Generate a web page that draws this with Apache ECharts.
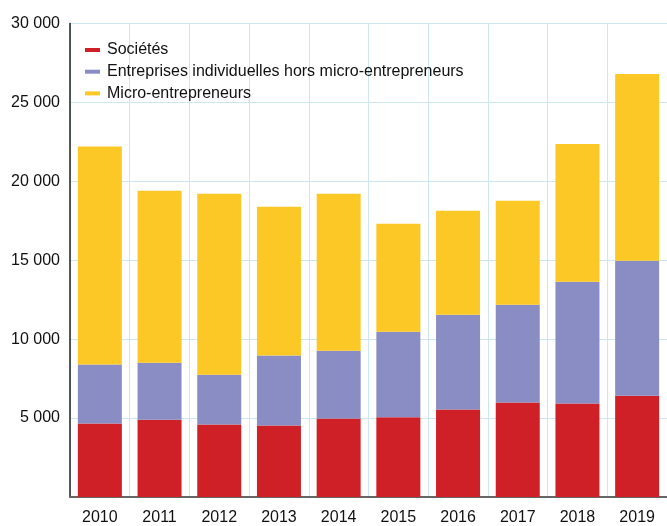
<!DOCTYPE html>
<html>
<head>
<meta charset="utf-8">
<script src="https://cdn.jsdelivr.net/npm/echarts@6/dist/echarts.min.js"></script>
<style>
  html, body { margin: 0; padding: 0; background: #fff; }
  #chart { width: 667px; height: 526px; }
</style>
</head>
<body>
<div id="chart"></div>
<script>
const years = ['2010', '2011', '2012', '2013', '2014', '2015', '2016', '2017', '2018', '2019']
const societes = [4650, 4900, 4590, 4530, 4970, 5050, 5540, 5980, 5920, 6420]
const entIndiv = [3750, 3610, 3160, 4430, 4300, 5420, 6010, 6200, 7720, 8550]
const microEnt = [13800, 10890, 11460, 9430, 9940, 6840, 6580, 6590, 8730, 11830]
const seriesNames = ['Sociétés', 'Entreprises individuelles hors micro-entrepreneurs', 'Micro-entrepreneurs']
const colors = ['#cf1f27', '#8a8dc4', '#fcc826']

const font = '"Liberation Sans", Arial, sans-serif'
const gridColor = '#cde6f0'

const chart = echarts.init(document.getElementById('chart'))

function fmt(v) {
  return String(v).replace(/\B(?=(\d{3})+(?!\d))/g, ' ')
}

chart.setOption({
  animation: false,
  textStyle: { fontFamily: font },
  grid: { left: 70, right: -3, top: 23.5, bottom: 28.5 },
  legend: {
    orient: 'vertical',
    left: 80,
    top: 35,
    itemWidth: 15,
    itemHeight: 4,
    itemGap: 1.7,
    icon: 'rect',
    textStyle: { fontFamily: font, fontSize: 16, color: '#111', lineHeight: 20, padding: [0, 0, 0, 2] },
    data: seriesNames,
  },
  xAxis: {
    type: 'category',
    data: years,
    axisLine: { lineStyle: { color: '#666', width: 2 } },
    axisTick: { show: false },
    axisLabel: { fontFamily: font, fontSize: 16, color: '#111', margin: 13 },
    splitLine: { show: true, lineStyle: { color: gridColor, width: 1 } },
  },
  yAxis: {
    type: 'value',
    min: 0,
    max: 30000,
    interval: 5000,
    axisLine: { show: true, lineStyle: { color: '#222', width: 1.5 } },
    axisTick: { show: false },
    axisLabel: {
      fontFamily: font, fontSize: 16, color: '#111', margin: 10,
      formatter: (v) => v === 0 ? '' : fmt(v),
    },
    splitLine: { lineStyle: { color: gridColor, width: 1 } },
  },
  series: [
    { name: seriesNames[0], type: 'bar', stack: 'total', barWidth: 44, data: societes, itemStyle: { color: colors[0] } },
    { name: seriesNames[1], type: 'bar', stack: 'total', barWidth: 44, data: entIndiv, itemStyle: { color: colors[1] } },
    { name: seriesNames[2], type: 'bar', stack: 'total', barWidth: 44, data: microEnt, itemStyle: { color: colors[2] } },
  ],
})
</script>
</body>
</html>
